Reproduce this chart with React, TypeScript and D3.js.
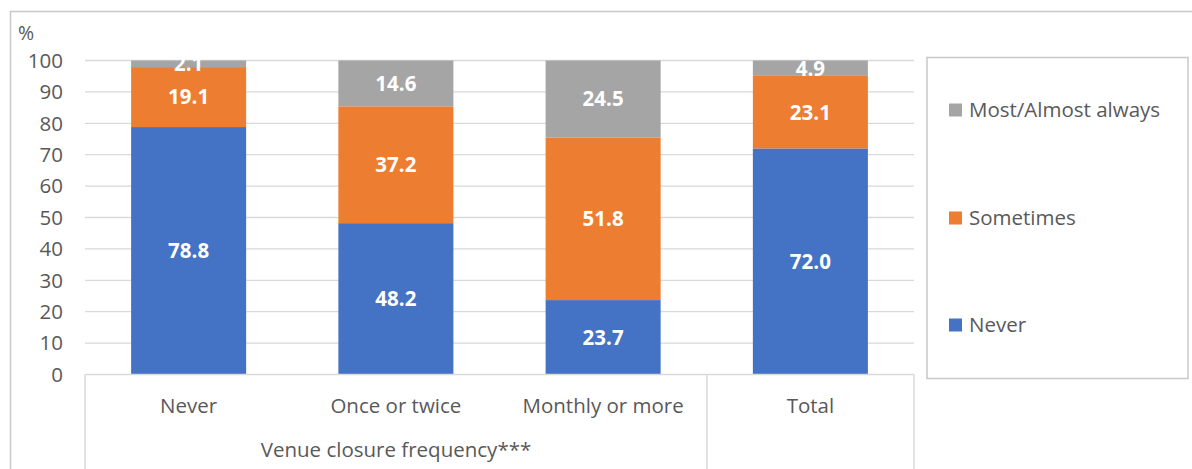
import * as d3 from 'd3';
import {useEffect, useRef} from "react";
import * as React from "react";

// data
const categories = ["Never", "Once or twice", "Monthly or more", "Total"];
const seriesNames = ["Never", "Sometimes", "Most/Almost always"];
const neverValues = [78.8, 48.2, 23.7, 72.0];
const sometimesValues = [19.1, 37.2, 51.8, 23.1];
const mostValues = [2.1, 14.6, 24.5, 4.9];
const yTicks = [0, 10, 20, 30, 40, 50, 60, 70, 80, 90, 100];
const groupLabel = "Venue closure frequency***";

const colors = ["#4472C4", "#ED7D31", "#A5A5A5"];

const App: React.FC = () => {
    const svgRef = useRef<SVGSVGElement | null>(null);

    useEffect(() => {
        if (!svgRef.current) return;
        document.body.style.margin = "0";

        const width = 1192;
        const height = 469;
        const font = "'Open Sans', 'Liberation Sans', sans-serif";
        const fontSize = 20.5;
        const textColor = "#595959";

        const svg = d3.select(svgRef.current)
            .attr("width", width)
            .attr("height", height)
            .style("display", "block")
            .style("background", "white");

        svg.selectAll("*").remove();

        const plotLeft = 85, plotRight = 914;
        const x = d3.scaleBand()
            .domain(categories)
            .range([plotLeft, plotRight])
            .paddingInner(0.445)
            .paddingOuter(0.2225);

        const y = d3.scaleLinear()
            .domain([0, 100])
            .range([374.5, 60.5]);

        // outer chart frame (title cut off above)
        svg.append("rect")
            .attr("x", 10.5)
            .attr("y", 11.5)
            .attr("width", width + 10)
            .attr("height", height)
            .attr("fill", "none")
            .attr("stroke", "#c8c8c8")
            .attr("stroke-width", 1.5);

        // gridlines
        svg.append("g")
            .selectAll("line")
            .data(yTicks.filter(t => t > 0))
            .enter()
            .append("line")
            .attr("x1", plotLeft)
            .attr("x2", plotRight)
            .attr("y1", d => y(d))
            .attr("y2", d => y(d))
            .attr("stroke", "#d9d9d9")
            .attr("stroke-width", 1.3);

        // y tick labels
        svg.append("g")
            .selectAll("text")
            .data(yTicks)
            .enter()
            .append("text")
            .attr("x", 63)
            .attr("y", d => y(d))
            .attr("dy", "0.36em")
            .attr("text-anchor", "end")
            .attr("font-family", font)
            .attr("font-size", fontSize)
            .attr("fill", textColor)
            .text(d => d);

        svg.append("text")
            .attr("x", 18)
            .attr("y", 40)
            .attr("font-family", font)
            .attr("font-size", fontSize - 1)
            .attr("fill", textColor)
            .text("%");

        // stacked bars
        const table = categories.map((c, i) => ({
            category: c,
            s0: neverValues[i],
            s1: sometimesValues[i],
            s2: mostValues[i],
        }));
        const stack = d3.stack<any>().keys(["s0", "s1", "s2"]);
        const layers = stack(table);

        const layerG = svg.append("g")
            .selectAll("g")
            .data(layers)
            .enter()
            .append("g")
            .attr("fill", (_, i) => colors[i]);

        layerG.selectAll("rect")
            .data(d => d)
            .enter()
            .append("rect")
            .attr("x", d => x(d.data.category)!)
            .attr("width", x.bandwidth())
            .attr("y", d => y(d[1]))
            .attr("height", d => y(d[0]) - y(d[1]));

        layerG.selectAll("text")
            .data(d => d)
            .enter()
            .append("text")
            .attr("x", d => x(d.data.category)! + x.bandwidth() / 2)
            .attr("y", d => y((d[0] + d[1]) / 2))
            .attr("dy", "0.36em")
            .attr("text-anchor", "middle")
            .attr("font-family", font)
            .attr("font-size", fontSize)
            .attr("font-weight", "bold")
            .attr("fill", "white")
            .text(d => (d[1] - d[0]).toFixed(1));

        // category axis with grouping box
        const axisY = y(0);
        const sepX = 707;
        const axisG = svg.append("g")
            .attr("stroke", "#d9d9d9")
            .attr("stroke-width", 1.5);
        axisG.append("line")
            .attr("x1", plotLeft).attr("x2", plotRight)
            .attr("y1", axisY).attr("y2", axisY);
        [plotLeft, sepX, plotRight].forEach(px => {
            axisG.append("line")
                .attr("x1", px).attr("x2", px)
                .attr("y1", axisY).attr("y2", height);
        });

        svg.append("g")
            .selectAll("text")
            .data(categories)
            .enter()
            .append("text")
            .attr("x", d => x(d)! + x.bandwidth() / 2)
            .attr("y", 413)
            .attr("text-anchor", "middle")
            .attr("font-family", font)
            .attr("font-size", fontSize)
            .attr("fill", textColor)
            .text(d => d);

        svg.append("text")
            .attr("x", (plotLeft + sepX) / 2)
            .attr("y", 457)
            .attr("text-anchor", "middle")
            .attr("font-family", font)
            .attr("font-size", fontSize)
            .attr("fill", textColor)
            .text(groupLabel);

        // legend
        svg.append("rect")
            .attr("x", 927)
            .attr("y", 57.5)
            .attr("width", 261)
            .attr("height", 321)
            .attr("fill", "white")
            .attr("stroke", "#c8c8c8")
            .attr("stroke-width", 1.5);

        const legendY = [325, 218, 110];
        const legendG = svg.append("g")
            .selectAll("g")
            .data(seriesNames)
            .enter()
            .append("g")
            .attr("transform", (_, i) => `translate(949,${legendY[i]})`);
        legendG.append("rect")
            .attr("x", 0)
            .attr("y", -6.5)
            .attr("width", 13)
            .attr("height", 13)
            .attr("fill", (_, i) => colors[i]);
        legendG.append("text")
            .attr("x", 20)
            .attr("y", 0)
            .attr("dy", "0.36em")
            .attr("font-family", font)
            .attr("font-size", fontSize)
            .attr("fill", textColor)
            .text(d => d);
    }, []);

    return <svg ref={svgRef}></svg>;
};

export default App;
